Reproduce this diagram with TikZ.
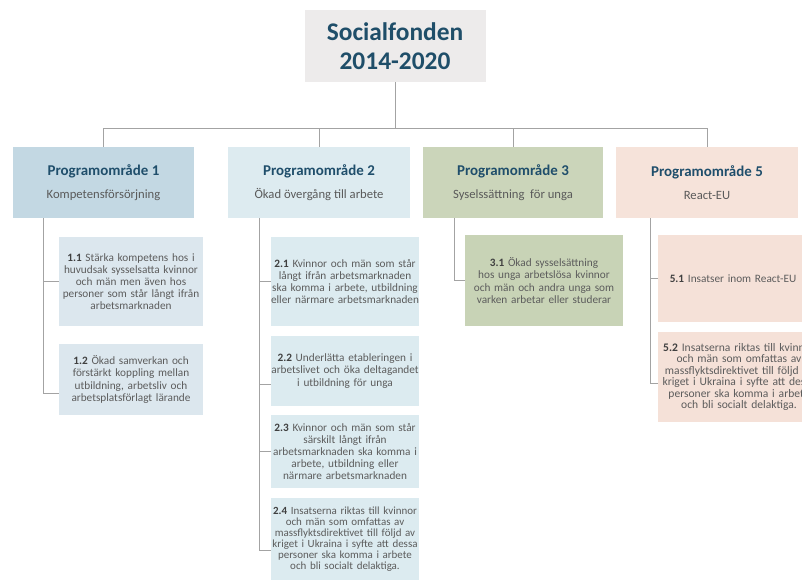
\documentclass[tikz,border=0pt]{standalone}
\usepackage{fontspec}
\setmainfont{Carlito}
\usetikzlibrary{calc}
\definecolor{titlefill}{HTML}{EDEBEB}
\definecolor{titletext}{HTML}{1F4E69}
\definecolor{headtext}{HTML}{1F4E6B}
\definecolor{subtext}{HTML}{5A5A5A}
\definecolor{bodytext}{HTML}{5C5C5C}
\definecolor{numtext}{HTML}{404040}
\definecolor{pone}{HTML}{C3D8E3}
\definecolor{ptwo}{HTML}{DDEBF0}
\definecolor{pthree}{HTML}{CBD5BA}
\definecolor{pfive}{HTML}{F6E3DA}
\definecolor{cone}{HTML}{DCE7EE}
\definecolor{ctwo}{HTML}{DCEBF0}
\definecolor{cthree}{HTML}{C8D3B6}
\definecolor{cfive}{HTML}{F5E1D8}
\definecolor{linecol}{HTML}{A3A3A3}
\newcommand{\nb}[1]{{\bfseries\color{numtext}#1}}
\begin{document}
\begin{tikzpicture}[x=1bp,y=-1bp,
  conn/.style={draw=linecol, line width=0.9bp},
  titlebox/.style={fill=titlefill, inner sep=0pt, align=center, text=titletext,
     font=\fontsize{25.5}{29}\selectfont\bfseries},
  progbox/.style={inner sep=0pt, align=center, text=subtext,
     font=\fontsize{12.7}{23}\selectfont},
  childbox/.style={inner xsep=0pt, inner ysep=0pt, align=center, text=bodytext,
     font=\fontsize{11.3}{12.2}\selectfont},
  densebox/.style={childbox, font=\fontsize{11}{10.9}\selectfont},
  widebox/.style={childbox, font=\fontsize{11.6}{11.4}\selectfont}]
\useasboundingbox (0,0) rectangle (802,582);
\clip (0,0) rectangle (802,582);

% title
\node[titlebox, minimum width=181bp, minimum height=72bp] (title) at (395,46)
  {Socialfonden\\2014-2020};

% program areas
\node[progbox, fill=pone, minimum width=181bp, minimum height=71bp] (p1) at (103.5,182.5)
  {{\fontsize{15}{23}\selectfont\bfseries\color{headtext}Programområde 1}\\Kompetensförsörjning};
\node[progbox, fill=ptwo, minimum width=182bp, minimum height=71bp] (p2) at (319,182.5)
  {{\fontsize{15}{23}\selectfont\bfseries\color{headtext}Programområde 2}\\Ökad övergång till arbete};
\node[progbox, fill=pthree, minimum width=180bp, minimum height=71bp] (p3) at (513,182.5)
  {{\fontsize{15}{23}\selectfont\bfseries\color{headtext}Programområde 3}\\Syselssättning\ \ för unga};
\node[progbox, fill=pfive, minimum width=182bp, minimum height=71bp] (p5) at (707,182.5)
  {{\fontsize{15}{23}\selectfont\bfseries\color{headtext}Programområde 5}\\React-EU};

% children 1
\node[childbox, fill=cone, text width=144bp, minimum height=89bp] (c11) at (131,281.5)
  {\nb{1.1} Stärka kompetens hos i\\huvudsak sysselsatta kvinnor\\och män men även hos\\personer som står långt ifrån\\arbetsmarknaden};
\node[childbox, fill=cone, text width=144bp, minimum height=71bp] (c12) at (131,379.5)
  {\nb{1.2} Ökad samverkan och\\förstärkt koppling mellan\\utbildning, arbetsliv och\\arbetsplatsförlagt lärande};

% children 2
\node[childbox, fill=ctwo, text width=148bp, minimum height=89bp] (c21) at (345,281.5)
  {\nb{2.1} Kvinnor och män som står\\långt ifrån arbetsmarknaden\\ska komma i arbete, utbildning\\eller närmare arbetsmarknaden};
\node[childbox, fill=ctwo, text width=148bp, minimum height=70bp] (c22) at (345,371)
  {\nb{2.2} Underlätta etableringen i\\arbetslivet och öka deltagandet\\i utbildning för unga};
\node[childbox, fill=ctwo, text width=148bp, minimum height=73bp] (c23) at (345,451.5)
  {\nb{2.3} Kvinnor och män som står\\särskilt långt ifrån\\arbetsmarknaden ska komma i\\arbete, utbildning eller\\närmare arbetsmarknaden};
\node[densebox, fill=ctwo, text width=148bp, minimum height=82bp] (c24) at (345,539)
  {\nb{2.4} Insatserna riktas till kvinnor\\och män som omfattas av\\massflyktsdirektivet till följd av\\kriget i Ukraina i syfte att dessa\\personer ska komma i arbete\\och bli socialt delaktiga.};

% children 3
\node[childbox, fill=cthree, text width=158bp, minimum height=91bp] (c31) at (544,280.5)
  {\nb{3.1} Ökad sysselsättning\\hos unga arbetslösa kvinnor\\och män och andra unga som\\varken arbetar eller studerar};

% children 5
\node[childbox, fill=cfive, text width=150bp, minimum height=87bp] (c51) at (733,278.5)
  {\nb{5.1} Insatser inom React-EU};
\node[widebox, fill=cfive, text width=162bp, minimum height=90bp] (c52) at (739,377)
  {\nb{5.2} Insatserna riktas till kvinnor\\och män som omfattas av\\massflyktsdirektivet till följd av\\kriget i Ukraina i syfte att dessa\\personer ska komma i arbete\\och bli socialt delaktiga.};

% top connectors
\coordinate (bus) at (0,128);
\draw[conn] (title.south) -- (title.south |- bus) -| (p1.north);
\draw[conn] (title.south |- bus) -| (p2.north);
\draw[conn] (title.south |- bus) -| (p3.north);
\draw[conn] (title.south |- bus) -| (p5.north);

% spines
\coordinate (s1) at ([xshift=31bp]p1.south west);
\coordinate (s2) at ([xshift=32bp]p2.south west);
\coordinate (s3) at ([xshift=32bp]p3.south west);
\coordinate (s5) at ([xshift=35bp]p5.south west);
\draw[conn] (s1) |- (c11.west);
\draw[conn] (s1) |- ([yshift=-13.5bp]c12.west);
\draw[conn] (s2) |- (c21.west);
\draw[conn] (s2) |- ([yshift=-13bp]c22.west);
\draw[conn] (s2) |- (c23.west);
\draw[conn] (s2) |- ([yshift=-11bp]c24.west);
\draw[conn] (s3) |- (c31.west);
\draw[conn] (s5) |- (c51.west);
\draw[conn] (s5) |- ([yshift=-6bp]c52.west);
\end{tikzpicture}
\end{document}
